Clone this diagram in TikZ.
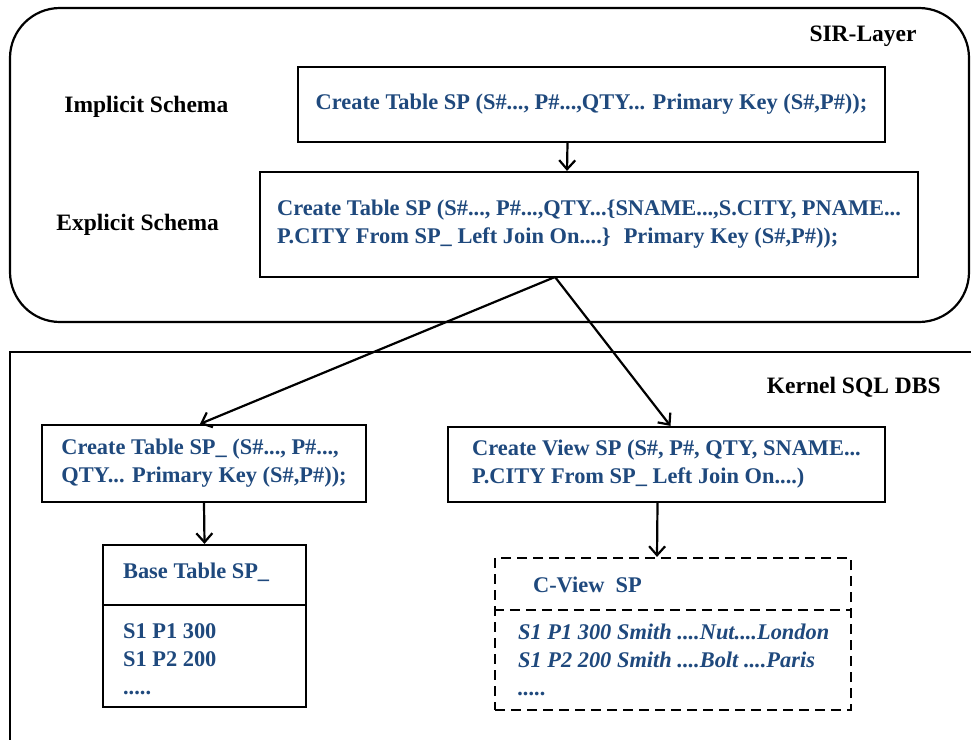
\documentclass[tikz,border=0pt]{standalone}
\usepackage{fontspec}
\setmainfont{Liberation Serif}
\usetikzlibrary{shapes,calc,arrows.meta}
\definecolor{sqlblue}{RGB}{31,73,125}
\tikzset{
  box/.style={draw,line width=2.2pt,align=left,text=sqlblue,font=\bfseries\fontsize{22.4}{28}\selectfont},
  tbltxt/.style={inner sep=0pt,align=left,text=sqlblue,font=\bfseries\fontsize{22.4}{28}\selectfont},
  lbl/.style={font=\bfseries\fontsize{23.5}{26}\selectfont},
}

\begin{document}
\begin{tikzpicture}[x=1pt,y=-1pt,line width=2.2pt,>={Straight Barb[length=9pt,width=16pt]}]
  \useasboundingbox (0,0) rectangle (971,739);
  % layers
  \draw[rounded corners=50pt] (10,8) rectangle (969,322);
  \begin{scope}
    \clip (0,0) rectangle (971,739);
    \draw (10,352) rectangle (990,760);
  \end{scope}
  \node[lbl,anchor=east] (sir) at (921,36) {SIR-Layer};
  \node[lbl,anchor=east] (kern) at (945,387) {Kernel SQL DBS};
  \node[lbl,anchor=west] (limp) at (60,107) {Implicit Schema};
  \node[lbl,anchor=west] (lexp) at (52,225) {Explicit Schema};

  % schema boxes
  \node[box,minimum width=587,minimum height=75] (impl) at (591.5,104.5)
    {Create Table SP (S\#..., P\#...,QTY... Primary Key (S\#,P\#));};
  \node[box,minimum width=658,minimum height=105] (expl) at (589,224.5)
    {Create Table SP (S\#..., P\#...,QTY...\{SNAME...,S.CITY, PNAME...\\
     P.CITY From SP\_ Left Join On....\}~ Primary Key (S\#,P\#));};
  \node[box,minimum width=324,minimum height=77] (ctab) at (204,463.5)
    {Create Table SP\_ (S\#..., P\#...,\\QTY... Primary Key (S\#,P\#));};
  \node[box,minimum width=437,minimum height=75] (cview) at (666.5,464.5)
    {Create View SP (S\#, P\#, QTY, SNAME...\\P.CITY From SP\_ Left Join On....)};

  % tables
  \node[draw,minimum width=203,minimum height=162] (base) at (204.5,626) {};
  \draw (base.west |- 0,605) -- (base.east |- 0,605);
  \node[tbltxt,anchor=west] (bhead) at (122,572) {Base Table SP\_};
  \node[tbltxt,anchor=north west] (brows) at (122,622) {S1 P1 300\\S1 P2 200\\.....};

  \node[draw,dash pattern=on 10pt off 6pt,minimum width=356,minimum height=152] (cvt) at (673,634) {};
  \draw[dash pattern=on 10pt off 6pt] (cvt.west |- 0,610) -- (cvt.east |- 0,610);
  \node[tbltxt,anchor=west] (chead) at (532,585) {C-View\ \ SP};
  \node[tbltxt,anchor=north west,font=\bfseries\itshape\fontsize{22.4}{28}\selectfont] (crows) at (517,623)
    {S1 P1 300 Smith ....Nut....London\\S1 P2 200 Smith ....Bolt ....Paris\\.....};

  % connectors
  \coordinate (fork) at (555,277);
  \draw[->] ([xshift=-24]impl.south) -- ([xshift=-22]expl.north);
  \draw[->] (fork) -- ([xshift=-4]ctab.north);
  \draw[->] (fork) -- ([xshift=4]cview.north);
  \draw[->] (ctab.south) -- (base.north);
  \draw[->] ([xshift=-9]cview.south) -- ([xshift=-16]cvt.north);
\end{tikzpicture}
\end{document}
